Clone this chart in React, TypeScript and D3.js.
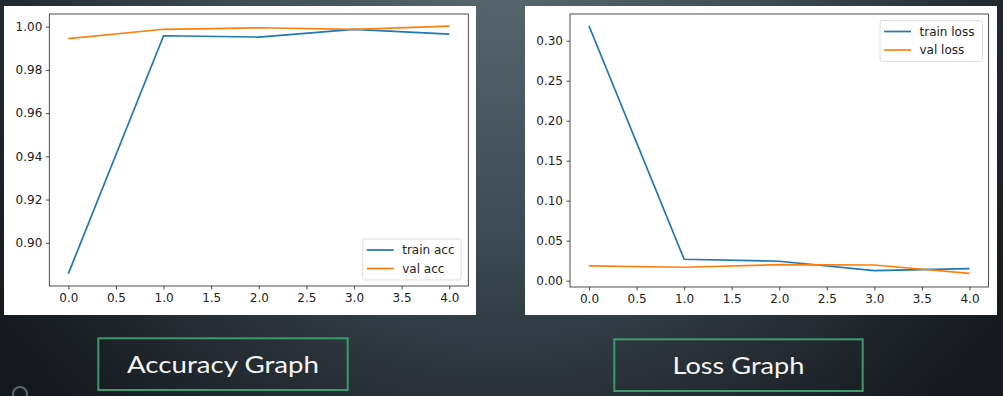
import React, { useEffect, useRef } from "react";
import * as d3 from "d3";

const epochs = [0, 1, 2, 3, 4];
const trainAcc = [0.8857, 0.9958, 0.9952, 0.9988, 0.9966];
const valAcc = [0.9945, 0.9988, 0.9995, 0.9988, 1.0003];
const trainLoss = [0.3184, 0.0268, 0.0243, 0.0125, 0.015];
const valLoss = [0.0184, 0.0168, 0.02, 0.0196, 0.0092];
const xTicks = [0, 0.5, 1, 1.5, 2, 2.5, 3, 3.5, 4];
const accTicks = [0.9, 0.92, 0.94, 0.96, 0.98, 1.0];
const lossTicks = [0, 0.05, 0.1, 0.15, 0.2, 0.25, 0.3];

const BLUE = "#1f77b4";
const ORANGE = "#ff7f0e";
const FONT = "DejaVu Sans, sans-serif";

type Panel = {
    panel: [number, number, number, number];
    axes: [number, number, number, number];
    yDomain: [number, number];
    yTicks: number[];
    series: { name: string; values: number[]; color: string }[];
    legend: { x: number; y: number; w: number; h: number };
};

const panels: Panel[] = [
    {
        panel: [4, 6, 472, 309],
        axes: [49.3, 14, 468.3, 286],
        yDomain: [0.88, 1.00587],
        yTicks: accTicks,
        series: [
            { name: "train acc", values: trainAcc, color: BLUE },
            { name: "val acc", values: valAcc, color: ORANGE },
        ],
        legend: { x: 362.7, y: 239, w: 98.5, h: 41 },
    },
    {
        panel: [525, 6, 472, 309],
        axes: [570, 14, 988.5, 287],
        yDomain: [-0.0079, 0.3334],
        yTicks: lossTicks,
        series: [
            { name: "train loss", values: trainLoss, color: BLUE },
            { name: "val loss", values: valLoss, color: ORANGE },
        ],
        legend: { x: 880, y: 20.5, w: 102.5, h: 41 },
    },
];

function drawPanel(svg: d3.Selection<SVGSVGElement, unknown, null, undefined>, p: Panel) {
    const [px, py, pw, ph] = p.panel;
    const [x0, y0, x1, y1] = p.axes;
    const g = svg.append("g");

    g.append("rect")
        .attr("x", px).attr("y", py).attr("width", pw).attr("height", ph)
        .attr("fill", "#fff");

    const x = d3.scaleLinear().domain([-0.2, 4.2]).range([x0, x1]);
    const y = d3.scaleLinear().domain(p.yDomain).range([y1, y0]);

    const xa = g.append("g")
        .attr("transform", `translate(0,${y1})`)
        .call(d3.axisBottom(x).tickValues(xTicks).tickFormat(d3.format(".1f")).tickSize(3.5).tickPadding(3.5));
    const ya = g.append("g")
        .attr("transform", `translate(${x0},0)`)
        .call(d3.axisLeft(y).tickValues(p.yTicks).tickFormat(d3.format(".2f")).tickSize(3.5).tickPadding(3.5));

    [xa, ya].forEach(a => {
        a.select(".domain").remove();
        a.selectAll("line").attr("stroke", "#222").attr("stroke-width", 0.8);
        a.selectAll("text").attr("fill", "#222").style("font-family", FONT).style("font-size", "12px");
    });

    const line = d3.line<number>()
        .x((d, i) => x(epochs[i]))
        .y(d => y(d));

    p.series.forEach(s => {
        g.append("path")
            .datum(s.values)
            .attr("d", line)
            .attr("fill", "none")
            .attr("stroke", s.color)
            .attr("stroke-width", 1.7);
    });

    g.append("rect")
        .attr("x", x0).attr("y", y0).attr("width", x1 - x0).attr("height", y1 - y0)
        .attr("fill", "none").attr("stroke", "#222").attr("stroke-width", 0.8);

    const L = p.legend;
    g.append("rect")
        .attr("x", L.x).attr("y", L.y).attr("width", L.w).attr("height", L.h)
        .attr("rx", 2.5)
        .attr("fill", "rgba(255,255,255,0.8)")
        .attr("stroke", "#d6d6d6").attr("stroke-width", 0.8);

    p.series.forEach((s, i) => {
        const cy = L.y + 11 + i * 18.5;
        g.append("line")
            .attr("x1", L.x + 4).attr("x2", L.x + 31)
            .attr("y1", cy).attr("y2", cy)
            .attr("stroke", s.color).attr("stroke-width", 1.7);
        g.append("text")
            .attr("x", L.x + 39.5).attr("y", cy + 4.3)
            .attr("fill", "#222")
            .style("font-family", FONT).style("font-size", "12px")
            .text(s.name);
    });
}

export default function App() {
    const ref = useRef<SVGSVGElement>(null);

    useEffect(() => {
        const svg = d3.select(ref.current!);
        svg.selectAll("*").remove();

        const defs = svg.append("defs");
        const grad = defs.append("radialGradient")
            .attr("id", "bg")
            .attr("gradientUnits", "userSpaceOnUse")
            .attr("cx", 500).attr("cy", -40).attr("r", 620);
        grad.append("stop").attr("offset", "0%").attr("stop-color", "#5a6a71");
        grad.append("stop").attr("offset", "45%").attr("stop-color", "#3b4a53");
        grad.append("stop").attr("offset", "80%").attr("stop-color", "#22292f");
        grad.append("stop").attr("offset", "100%").attr("stop-color", "#15181d");

        svg.append("rect").attr("width", 1003).attr("height", 396).attr("fill", "url(#bg)");

        panels.forEach(p => drawPanel(svg, p));

        const boxes = [
            { label: "Accuracy Graph", x: 98.3, y: 338.3, w: 249.4, h: 51.7, tw: 192 },
            { label: "Loss Graph", x: 614.3, y: 339.3, w: 248.4, h: 51.7, tw: 132 },
        ];
        boxes.forEach(b => {
            svg.append("rect")
                .attr("x", b.x).attr("y", b.y).attr("width", b.w).attr("height", b.h)
                .attr("fill", "none").attr("stroke", "#3c9a6c").attr("stroke-width", 2);
            svg.append("text")
                .attr("x", b.x + b.w / 2).attr("y", b.y + 35)
                .attr("text-anchor", "middle")
                .attr("fill", "#f4f4f4")
                .attr("textLength", b.tw)
                .attr("lengthAdjust", "spacingAndGlyphs")
                .style("font-family", "Lato, sans-serif")
                .style("font-size", "24px")
                .text(b.label);
        });

        svg.append("circle")
            .attr("cx", 20).attr("cy", 394).attr("r", 7)
            .attr("fill", "none").attr("stroke", "#5c6770").attr("stroke-width", 2);
    }, []);

    return (
        <svg
            ref={ref}
            width={1003}
            height={396}
            style={{ position: "absolute", left: 0, top: 0, display: "block" }}
        />
    );
}
